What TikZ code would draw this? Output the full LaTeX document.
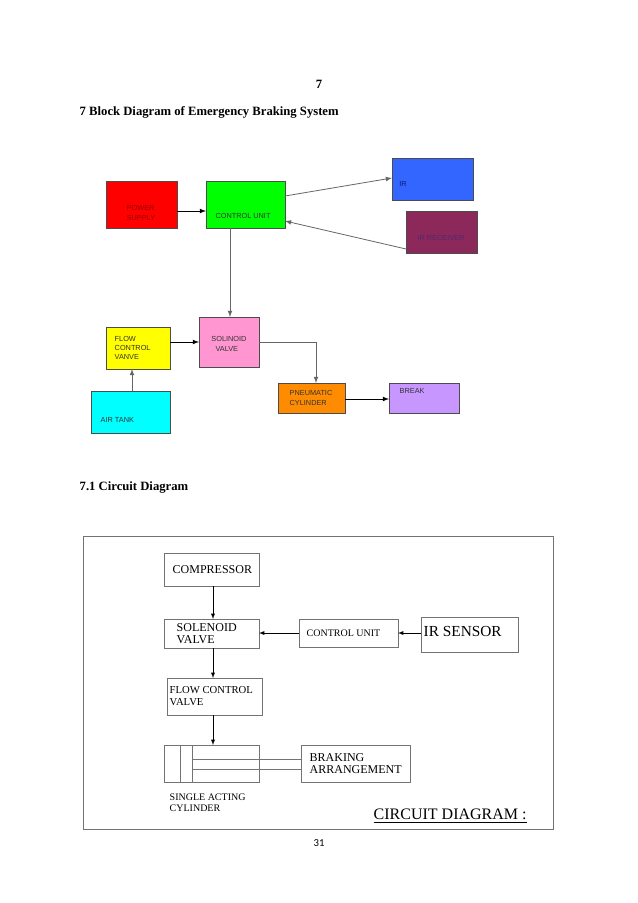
\documentclass[tikz,border=0pt]{standalone}
\usepackage{fontspec}
\setmainfont{Liberation Serif}
\newfontfamily\sansf{Liberation Sans}
\newfontfamily\carl{Carlito}
\begin{document}
\begin{tikzpicture}[x=0.75pt,y=-0.75pt,
 bt/.style={font=\sansf\fontsize{5.5}{7}\selectfont,align=left,text=black!80},
 ar/.style={-latex,draw=black!60,line width=0.6pt},
 cb/.style={draw=black!55,line width=0.6pt},
 ct/.style={font=\fontsize{9}{9.5}\selectfont,align=left,anchor=west},
 car/.style={-latex,draw=black,line width=0.4pt}]
\useasboundingbox (0,0) rectangle (638,903);
\fill[white] (0,0) rectangle (638,903);
\node[font=\bfseries\fontsize{9.5}{10}\selectfont] (pg) at (319,84) {7};
\node[font=\bfseries\fontsize{9.5}{10}\selectfont,anchor=west] (h1) at (75,112) {7 Block Diagram of Emergency Braking System};
\node[font=\bfseries\fontsize{9.5}{10}\selectfont,anchor=west] (h2) at (75,487) {7.1 Circuit Diagram};
\node[font=\carl\fontsize{8}{9}\selectfont] (pn) at (319,843) {31};
% top blocks
\path[fill={rgb,255:red,255;green,0;blue,0},draw=black!70] (106,181) rectangle (177,228); \node (ps) at (141.5,204.5) {};
\node[bt,text={rgb,255:red,150;green,0;blue,0}] at (141,213) {POWER\\SUPPLY};
\path[fill={rgb,255:red,0;green,255;blue,0},draw=black!70] (206,181) rectangle (285,228); \node (cu) at (245.5,204.5) {};
\node[bt] at (243,216) {CONTROL UNIT};
\path[fill={rgb,255:red,51;green,102;blue,255},draw=black!70] (392,158) rectangle (473,200); \node (ir) at (432,179) {};
\node[bt,text={rgb,255:red,10;green,30;blue,120}] at (403,184) {IR};
\path[fill={rgb,255:red,140;green,40;blue,90},draw=black!70] (406,211) rectangle (477,253); \node (irr) at (441,232) {};
\node[bt,text={rgb,255:red,80;green,40;blue,110}] at (441,238) {IR RECEIVER};
\path[fill={rgb,255:red,255;green,150;blue,210},draw=black!70] (199,317) rectangle (259,367); \node (sv) at (229,342) {};
\node[bt] at (229,344) {SOLINOID\\\ \ VALVE};
\path[fill={rgb,255:red,255;green,255;blue,0},draw=black!70] (106,327) rectangle (170,369); \node (fc) at (138,348) {};
\node[bt,anchor=west] at (110,348) {FLOW\\CONTROL\\VANVE};
\path[fill={rgb,255:red,0;green,255;blue,255},draw=black!70] (91,391) rectangle (170,433); \node (at) at (130,412) {};
\node[bt,anchor=west] at (96,420) {AIR TANK};
\path[fill={rgb,255:red,255;green,140;blue,0},draw=black!70] (278,383) rectangle (345,413); \node (pc) at (311,398) {};
\node[bt] at (311,398) {PNEUMATIC\\CYLINDER};
\path[fill={rgb,255:red,200;green,150;blue,255},draw=black!70] (389,383) rectangle (459,413); \node (br) at (424,398) {};
\node[bt,anchor=west] at (395,391) {BREAK};
\draw[ar,draw=black] (177,211) -- (206,211);
\draw[ar] (285,196) -- (392,178);
\draw[ar] (406,249) -- (285,221);
\draw[ar] (230,228) -- (230,317);
\draw[ar,draw=black] (170,342) -- (199,342);
\draw[ar] (132,391) -- (132,369);
\draw[ar] (259,342) -- (316,342) -- (316,383);
\draw[ar,draw=black] (345,399) -- (389,399);
% circuit diagram
\draw[cb] (83,536) rectangle (553,829);
\draw[cb] (164,553) rectangle (259,586);
\node[ct] (comp) at (168,569.5) {COMPRESSOR};
\draw[cb] (164,619) rectangle (259,648);
\node[ct] (sol) at (172,633.5) {SOLENOID\\VALVE};
\draw[cb] (299,619) rectangle (398,647);
\node[ct,font=\fontsize{7.5}{8}\selectfont] (cu2) at (302,633) {CONTROL UNIT};
\draw[cb] (421,617) rectangle (518,652);
\node[ct,font=\fontsize{11.5}{12}\selectfont] (irs) at (419,631) {IR SENSOR};
\draw[cb] (167,678) rectangle (262,715);
\node[ct,font=\fontsize{8}{9}\selectfont] (flow) at (165,696) {FLOW CONTROL\\VALVE};
\draw[cb] (164,745) rectangle (259,782);
\draw[cb] (180,745) -- (180,782) (192,745) -- (192,782);
\draw[cb] (192,759) -- (301,759) (192,769) -- (301,769);
\draw[cb] (301,745) rectangle (410,782);
\node[ct] (brk) at (305,763.5) {BRAKING\\ARRANGEMENT};
\node[ct,font=\fontsize{7.5}{8.5}\selectfont] (sac) at (165,803) {SINGLE ACTING\\CYLINDER};
\node[ct,font=\fontsize{12}{12}\selectfont] (cdg) at (369,816) {\underline{CIRCUIT DIAGRAM :}};
\draw[car] (213,586) -- (213,619);
\draw[car] (213,648) -- (213,678);
\draw[car] (213,715) -- (213,745);
\draw[car] (299,633) -- (259,633);
\draw[car] (421,633) -- (398,633);
\end{tikzpicture}
\end{document}
